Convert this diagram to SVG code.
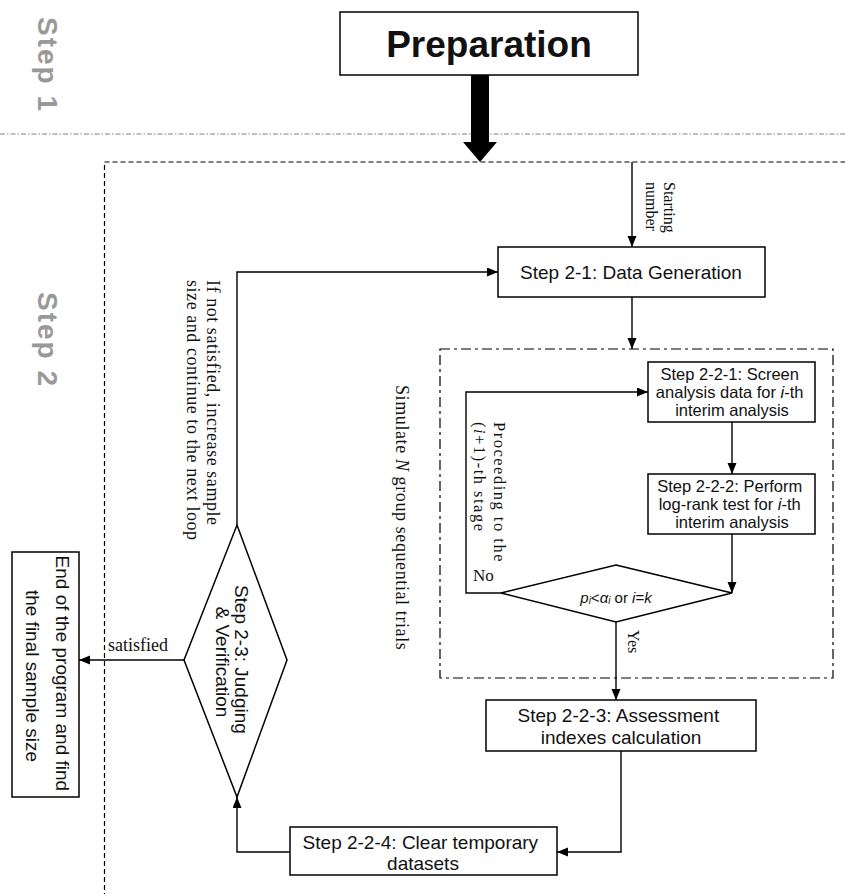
<svg xmlns="http://www.w3.org/2000/svg" width="845" height="894" viewBox="0 0 845 894">
<style>
.box{fill:#fff;stroke:#000;stroke-width:1.5}
.ln{fill:none;stroke:#000;stroke-width:1.4}
.sans{font-family:"Liberation Sans",Arial,sans-serif;fill:#111}
.serif{font-family:"Liberation Serif","Times New Roman",serif;fill:#111}
.step{font-family:"Liberation Sans",Arial,sans-serif;font-weight:bold;font-size:28px;fill:#999;letter-spacing:2px}
.it{font-style:italic}
</style>
<defs>
<marker id="ah" markerUnits="userSpaceOnUse" markerWidth="12" markerHeight="10" refX="11" refY="4.5" orient="auto">
<path d="M0,0 L11,4.5 L0,9 z" fill="#000"/>
</marker>
</defs>
<rect width="845" height="894" fill="#fff"/>

<!-- section separators -->
<line x1="0" y1="134" x2="845" y2="134" stroke="#aaa" stroke-width="1.5" stroke-dasharray="5 2 1.5 2"/>
<rect x="104.5" y="162" width="800" height="800" fill="none" stroke="#000" stroke-width="1.2" stroke-dasharray="5 3"/>
<rect x="440" y="349" width="393" height="329" fill="none" stroke="#000" stroke-width="1.2" stroke-dasharray="10 4 3 4"/>

<text class="step" transform="translate(47,65) rotate(90)" text-anchor="middle" dominant-baseline="central">Step 1</text>
<text class="step" transform="translate(47,340) rotate(90)" text-anchor="middle" dominant-baseline="central">Step 2</text>

<g id="preparation">
<rect class="box" x="340" y="12" width="298" height="63" stroke-width="2"/>
<text class="sans" x="489" y="44" font-size="37" font-weight="bold" text-anchor="middle" dominant-baseline="central" fill="#000">Preparation</text>
</g>

<g id="step2-1">
<rect class="box" x="498" y="247" width="267" height="50"/>
<text class="sans" x="631" y="272" font-size="19" text-anchor="middle" dominant-baseline="central">Step 2-1: Data Generation</text>
</g>

<g id="step2-2-1">
<rect class="box" x="648" y="362" width="167" height="60"/>
<text class="sans" font-size="16.5" text-anchor="middle" dominant-baseline="central">
<tspan x="732" y="374">Step 2-2-1: Screen</tspan>
<tspan x="732" y="392">analysis data for <tspan class="it">i</tspan>-th</tspan>
<tspan x="732" y="410">interim analysis</tspan>
</text>
</g>

<g id="step2-2-2">
<rect class="box" x="648" y="474" width="167" height="60"/>
<text class="sans" font-size="16.5" text-anchor="middle" dominant-baseline="central">
<tspan x="732" y="486">Step 2-2-2: Perform</tspan>
<tspan x="732" y="504">log-rank test for <tspan class="it">i</tspan>-th</tspan>
<tspan x="732" y="522">interim analysis</tspan>
</text>
</g>

<g id="decision-stage">
<polygon class="box" points="616,565 732,593 616,622 501,593"/>
<text class="sans" x="616" y="597" font-size="15" text-anchor="middle" dominant-baseline="central"><tspan class="it">p</tspan><tspan font-size="10" dy="3" class="it">i</tspan><tspan dy="-3">&lt;</tspan><tspan class="it">α</tspan><tspan font-size="10" dy="3" class="it">i</tspan><tspan dy="-3"> or </tspan><tspan class="it">i</tspan>=<tspan class="it">k</tspan></text>
</g>

<g id="step2-2-3">
<rect class="box" x="486" y="700" width="270" height="51"/>
<text class="sans" font-size="19" text-anchor="middle" dominant-baseline="central">
<tspan x="621" y="715">Step 2-2-3: Assessment</tspan>
<tspan x="621" y="737">indexes calculation</tspan>
</text>
</g>

<g id="step2-2-4">
<rect class="box" x="290" y="827" width="267" height="48"/>
<text class="sans" font-size="19" text-anchor="middle" dominant-baseline="central">
<tspan x="423" y="842">Step 2-2-4: Clear temporary</tspan>
<tspan x="423" y="863">datasets</tspan>
</text>
</g>

<g id="step2-3">
<polygon class="box" points="237,525 287,660 237,797 184,660"/>
<text class="sans" font-size="19" text-anchor="middle" dominant-baseline="central" transform="translate(233,662) rotate(90)">
<tspan x="0" y="-9">Step 2-3: Judging</tspan>
<tspan x="0" y="10">&amp; Verification</tspan>
</text>
</g>

<g id="end">
<rect class="box" x="12" y="552" width="67" height="245"/>
<text class="sans" font-size="19" text-anchor="middle" dominant-baseline="central" transform="translate(48,676) rotate(90)">
<tspan x="0" y="-15">End of the program and find</tspan>
<tspan x="0" y="15">the final sample size</tspan>
</text>
</g>

<g id="connectors">
<rect x="471" y="75" width="18" height="68" fill="#000"/>
<polygon points="463,142 497,142 480,162" fill="#000"/>
<line class="ln" x1="632" y1="162" x2="632" y2="247" marker-end="url(#ah)"/>
<line class="ln" x1="632" y1="297" x2="632" y2="349" marker-end="url(#ah)"/>
<line class="ln" x1="732" y1="422" x2="732" y2="474" marker-end="url(#ah)"/>
<line class="ln" x1="732" y1="534" x2="732" y2="593" marker-end="url(#ah)"/>
<polyline class="ln" points="501,593 466,593 466,392 648,392" marker-end="url(#ah)"/>
<line class="ln" x1="616" y1="622" x2="616" y2="700" marker-end="url(#ah)"/>
<polyline class="ln" points="621,751 621,852 557,852" marker-end="url(#ah)"/>
<polyline class="ln" points="290,852 237,852 237,797" marker-end="url(#ah)"/>
<polyline class="ln" points="237,525 237,272 498,272" marker-end="url(#ah)"/>
<line class="ln" x1="184" y1="660" x2="79" y2="660" marker-end="url(#ah)"/>
</g>

<g id="labels" class="serif">
<text class="serif" font-size="16" transform="translate(661,182) rotate(90)" dominant-baseline="central"><tspan x="0" y="-9">Starting</tspan><tspan x="0" y="9">number</tspan></text>
<text class="serif" font-size="18" letter-spacing="0.55" transform="translate(203,280) rotate(90)" dominant-baseline="central"><tspan x="0" y="-10">If not satisfied, increase sample</tspan><tspan x="0" y="10">size and continue to the next loop</tspan></text>
<text class="serif" font-size="18" letter-spacing="0.6" transform="translate(402,385) rotate(90)" dominant-baseline="central">Simulate <tspan class="it">N</tspan> group sequential trials</text>
<text class="serif" font-size="16.5" letter-spacing="1.5" transform="translate(490,422) rotate(90)" dominant-baseline="central"><tspan x="0" y="-10">Proceeding to the</tspan><tspan x="0" y="10">(<tspan class="it">i</tspan>+1)-th stage</tspan></text>
<text class="serif" font-size="17" x="473" y="575" dominant-baseline="central">No</text>
<text class="serif" font-size="16" transform="translate(633,630) rotate(90)" dominant-baseline="central">Yes</text>
<text class="serif" font-size="18" x="108" y="651" dominant-baseline="alphabetic">satisfied</text>
</g>
</svg>
